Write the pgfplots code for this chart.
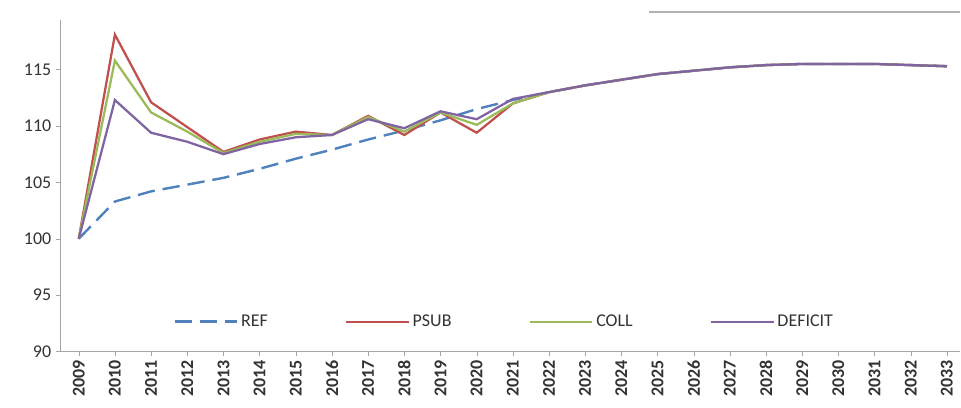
\documentclass[border=0pt]{standalone}
\usepackage{fontspec}
\setmainfont{Carlito}
\usepackage{pgfplots}
\pgfplotsset{compat=1.18}
\definecolor{cref}{HTML}{4F81BD}
\definecolor{cpsub}{HTML}{C0504D}
\definecolor{ccoll}{HTML}{9BBB59}
\definecolor{cdef}{HTML}{8064A2}
\begin{document}
\begin{tikzpicture}
\begin{axis}[
  scale only axis,
  width=676pt, height=249pt,
  xmin=2008.48, xmax=2033.36,
  ymin=90, ymax=119.4,
  xtick={2009,...,2033},
  ytick={90,95,...,115},
  axis x line=bottom, axis y line=left,
  axis line style={draw=gray!70, -},
  tick style={draw=gray!70},
  tick align=outside,
  major tick length=3pt,
  x tick label style={rotate=90, anchor=east, font=\fontsize{13.5}{15}\selectfont\bfseries, text=black!80, /pgf/number format/1000 sep={}},
  y tick label style={font=\fontsize{13.5}{15}\selectfont, text=black!80},
  /pgf/number format/assume math mode=true,
  /pgf/number format/1000 sep={},
  legend style={draw=none, fill=none, at={(0.494,0.09)}, anchor=center, legend columns=4,
    font=\fontsize{13.5}{15}\selectfont, text=black!80, /tikz/every even column/.append style={column sep=56pt}},
  legend image code/.code={\draw[#1] (0pt,0pt) -- (47pt,0pt);},
  clip=false,
]
\addplot[cref, line width=1.8pt, dash pattern=on 13pt off 6pt] coordinates {
(2009,100) (2010,103.3) (2011,104.2) (2012,104.8) (2013,105.4) (2014,106.2) (2015,107.1) (2016,107.9) (2017,108.8) (2018,109.6) (2019,110.5) (2020,111.5) (2021,112.3) (2022,113.0) (2023,113.6) (2024,114.1) (2025,114.6) (2026,114.9) (2027,115.2) (2028,115.4) (2029,115.5) (2030,115.5) (2031,115.5) (2032,115.4) (2033,115.3)};
\addlegendentry{REF}
\addplot[cpsub, line width=1.7pt] coordinates {
(2009,100) (2010,118.1) (2011,112.1) (2012,109.9) (2013,107.7) (2014,108.8) (2015,109.5) (2016,109.2) (2017,110.9) (2018,109.2) (2019,111.2) (2020,109.4) (2021,112.0) (2022,113.0) (2023,113.6) (2024,114.1) (2025,114.6) (2026,114.9) (2027,115.2) (2028,115.4) (2029,115.5) (2030,115.5) (2031,115.5) (2032,115.4) (2033,115.3)};
\addlegendentry{PSUB}
\addplot[ccoll, line width=1.7pt] coordinates {
(2009,100) (2010,115.8) (2011,111.2) (2012,109.5) (2013,107.6) (2014,108.6) (2015,109.3) (2016,109.2) (2017,110.8) (2018,109.5) (2019,111.2) (2020,110.1) (2021,112.0) (2022,113.0) (2023,113.6) (2024,114.1) (2025,114.6) (2026,114.9) (2027,115.2) (2028,115.4) (2029,115.5) (2030,115.5) (2031,115.5) (2032,115.4) (2033,115.3)};
\addlegendentry{COLL}
\addplot[cdef, line width=1.7pt] coordinates {
(2009,100) (2010,112.3) (2011,109.4) (2012,108.6) (2013,107.5) (2014,108.4) (2015,109.0) (2016,109.2) (2017,110.6) (2018,109.8) (2019,111.3) (2020,110.6) (2021,112.4) (2022,113.0) (2023,113.6) (2024,114.1) (2025,114.6) (2026,114.9) (2027,115.2) (2028,115.4) (2029,115.5) (2030,115.5) (2031,115.5) (2032,115.4) (2033,115.3)};
\addlegendentry{DEFICIT}
\draw[gray!60, line width=1.5pt] (rel axis cs:0.655,1) ++(0pt,6pt) -- ([yshift=6pt]rel axis cs:1,1);
\path ([xshift=-45pt,yshift=-42pt]rel axis cs:0,0) -- ([yshift=15pt]rel axis cs:1,1);
\end{axis}
\end{tikzpicture}
\end{document}
